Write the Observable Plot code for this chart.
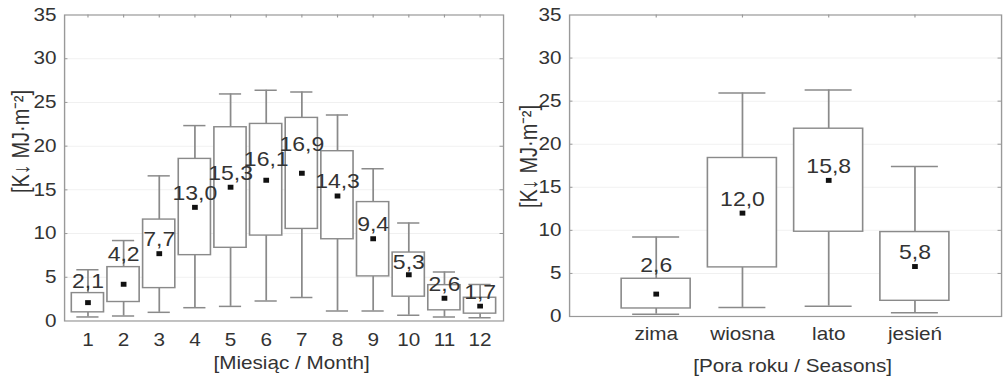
<!DOCTYPE html>
<html><head><meta charset="utf-8">
<script src="https://cdn.jsdelivr.net/npm/d3@7"></script>
<script src="https://cdn.jsdelivr.net/npm/@observablehq/plot@0.6"></script>
<style>
html,body{margin:0;padding:0;background:#fff;}
#wrap{position:relative;width:1003px;height:377px;overflow:hidden;background:#fff;}
.panel{position:absolute;top:0;}
.panel svg{transform:scaleX(1.15);transform-origin:0 0;display:block;}
</style></head><body>
<div id="wrap"><div class="panel" id="p1" style="left:0px"></div><div class="panel" id="p2" style="left:505px"></div></div>
<script>
// ---- data ----
const months = ["1","2","3","4","5","6","7","8","9","10","11","12"];
const mLow  = [0.46, 0.57, 0.99, 1.52, 1.67, 2.28, 2.70, 1.14, 1.14, 0.65, 0.46, 0.38];
const mQ1   = [0.99, 2.17, 3.76, 7.53, 8.37, 9.77, 10.53, 9.35, 5.10, 2.78, 1.22, 0.84];
const mQ3   = [3.19, 6.16, 11.60, 18.54, 22.16, 22.54, 23.23, 19.42, 13.60, 7.83, 4.10, 2.66];
const mHigh = [5.86, 9.20, 16.60, 22.35, 25.97, 26.39, 26.20, 23.57, 17.40, 11.20, 5.59, 4.18];
const mMean = [2.1, 4.2, 7.7, 13.0, 15.3, 16.1, 16.9, 14.3, 9.4, 5.3, 2.6, 1.7];

const seasons = ["zima","wiosna","lato","jesień"];
const sLow  = [0.27, 1.05, 1.20, 0.43];
const sQ1   = [0.93, 5.70, 9.84, 1.82];
const sQ3   = [4.38, 18.40, 21.80, 9.80];
const sHigh = [9.22, 25.95, 26.30, 17.40];
const sMean = [2.6, 12.0, 15.8, 5.8];

const yTicks = [0, 5, 10, 15, 20, 25, 30, 35];
const yLabel = "[K\u2193 MJ\u00b7m\u207b\u00b2]";
const xLabelMonths = "[Miesiąc / Month]";
const xLabelSeasons = "[Pora roku / Seasons]";

// ---- styling ----
const S = 1.15; // horizontal stretch of the reference
const GRAY = "#8a8a8a";
const TEXT = "#333";
const fmt = v => d3.format(".1f")(v).replace(".", ",");

function panel(cfg) {
  const rows = cfg.cats.map((c, i) => ({c, lo: cfg.lo[i], q1: cfg.q1[i], q3: cfg.q3[i], hi: cfg.hi[i], mean: cfg.mean[i]}));
  const W = cfg.screenW / S;
  const mL = cfg.frameLeft / S;
  const mR = (cfg.screenW - cfg.frameRight) / S;
  const H = 377;
  const mT = cfg.top, mB = H - cfg.bottom;
  const fW = W - mL - mR, fH = H - mT - mB;
  const midY = mT + fH / 2;
  const labels = rows.map(r => Plot.text([r], {
    x: "c", y: "mean", text: d => fmt(d.mean),
    dy: cfg.dyMap[r.c] ?? -14, fontSize: 20, fill: TEXT, lineAnchor: "middle"
  }));
  return Plot.plot({
    width: W, height: H,
    marginLeft: mL, marginRight: mR, marginTop: mT, marginBottom: mB,
    style: {fontFamily: "'Liberation Sans', Arial, sans-serif", fontSize: "18px", color: TEXT, background: "#fff"},
    x: {type: "band", domain: cfg.cats, paddingInner: cfg.padIn, paddingOuter: cfg.padOut, axis: null},
    y: {domain: [0, 35], axis: null},
    marks: [
      Plot.gridY(yTicks.slice(1, -1), {stroke: "#000", strokeOpacity: 0.06}),
      Plot.ruleX(rows, {x: "c", y1: "lo", y2: "q1", stroke: GRAY, strokeWidth: 1.5}),
      Plot.ruleX(rows, {x: "c", y1: "q3", y2: "hi", stroke: GRAY, strokeWidth: 1.5}),
      Plot.tickY(rows, {x: "c", y: "lo", inset: cfg.capInset, stroke: GRAY, strokeWidth: 1.5}),
      Plot.tickY(rows, {x: "c", y: "hi", inset: cfg.capInset, stroke: GRAY, strokeWidth: 1.5}),
      Plot.barY(rows, {x: "c", y1: "q1", y2: "q3", fill: "white", stroke: GRAY, strokeWidth: 1.4}),
      Plot.dot(rows, {x: "c", y: "mean", symbol: "square", r: 2.8, fill: "#111", stroke: null}),
      ...labels,
      Plot.tickY(yTicks.slice(1, -1), {y: d => d, insetRight: fW - 3, stroke: "#999"}),
      Plot.tickY(yTicks.slice(1, -1), {y: d => d, insetLeft: fW - 3, stroke: "#999"}),
      Plot.tickX(cfg.cats, {x: d => d, insetBottom: fH - 3, stroke: "#999"}),
      Plot.frame({stroke: "#999", strokeWidth: 1.2}),
      Plot.axisY(yTicks, {anchor: "left", tickSize: 0, tickPadding: 7, label: null, fontSize: 18}),
      Plot.axisX({anchor: "bottom", tickSize: 0, tickPadding: cfg.tickPad, label: null, fontSize: 18}),
      Plot.text([cfg.xLabel], {frameAnchor: "bottom", dx: cfg.xLabelDx / S, dy: cfg.xLabelDy, lineAnchor: "middle", fontSize: 18, fill: TEXT}),
      Plot.text([yLabel], {frameAnchor: "left", rotate: -90, dx: cfg.yLabelX / S - mL, dy: cfg.yLabelY - midY, lineAnchor: "middle", textAnchor: "middle", fontSize: 20, fill: TEXT})
    ]
  });
}

document.getElementById("p1").appendChild(panel({
  cats: months, lo: mLow, q1: mQ1, q3: mQ3, hi: mHigh, mean: mMean,
  screenW: 505, frameLeft: 64, frameRight: 503, top: 14.5, bottom: 320.5,
  padIn: 0.1, padOut: 0.05, capInset: 5 / S, tickPad: 12,
  xLabel: xLabelMonths, xLabelDx: 7.5, xLabelDy: 42.5,
  yLabelX: 21, yLabelY: 141,
  dyMap: {"1": -21, "2": -30, "6": -21, "7": -29, "10": -12}
}));
document.getElementById("p2").appendChild(panel({
  cats: seasons, lo: sLow, q1: sQ1, q3: sQ3, hi: sHigh, mean: sMean,
  screenW: 498, frameLeft: 64, frameRight: 496, top: 14.5, bottom: 316,
  padIn: 0.2, padOut: 0.6, capInset: 11 / S, tickPad: 10.5,
  xLabel: xLabelSeasons, xLabelDx: 7, xLabelDy: 50,
  yLabelX: 24, yLabelY: 156,
  dyMap: {"zima": -29}
}));
</script>
</body></html>
